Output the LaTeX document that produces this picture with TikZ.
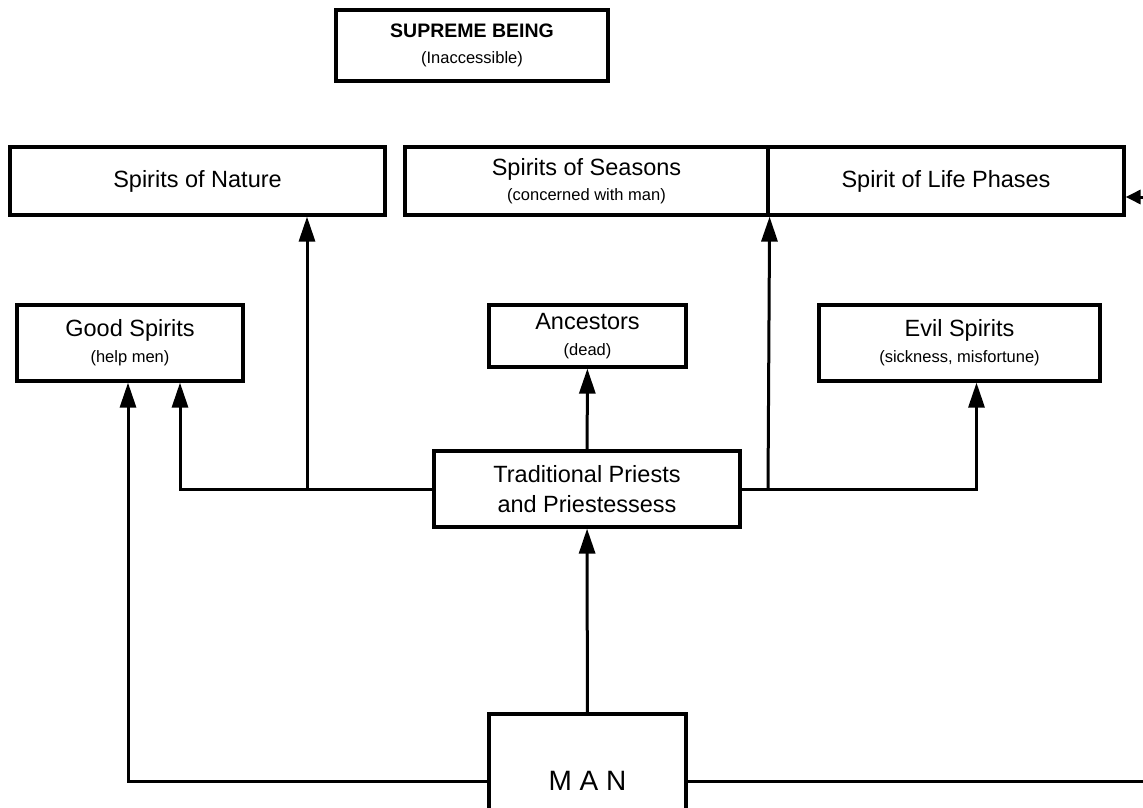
\documentclass[tikz,border=0pt]{standalone}
\usepackage{fontspec}
\setmainfont{Liberation Sans}
\usetikzlibrary{arrows.meta}
\newcommand\bigtxt{\fontsize{23.5}{29}\selectfont}
\newcommand\smalltxt{\fontsize{16.5}{20}\selectfont}
\begin{document}
\begin{tikzpicture}[x=1pt,y=-1pt,
  box/.style={draw, line width=3.2pt, inner sep=0pt, align=center, font=\bigtxt},
  link/.style={line width=3pt},
  arr/.style={link, -{Triangle[length=25pt,width=16pt]}},
  shortarr/.style={link, -{Triangle[length=15pt,width=14pt]}},
]
\useasboundingbox (0,0) rectangle (1143,808);
\clip (0,0) rectangle (1143,808);

% boxes
\node[box, minimum width=272pt, minimum height=71pt] (supreme) at (472,45.5)
  {{\bfseries\fontsize{19.5}{24}\selectfont SUPREME BEING}\\[-3pt]{\smalltxt (Inaccessible)}};
\node[box, minimum width=375pt, minimum height=68pt] (nature) at (197.5,181) {Spirits of Nature};
\node[box, minimum width=363pt, minimum height=68pt] (seasons) at (586.5,181)
  {Spirits of Seasons\\[-4pt]{\smalltxt (concerned with man)}};
\node[box, minimum width=356pt, minimum height=68pt] (life) at (946,181) {Spirit of Life Phases};
\node[box, minimum width=226pt, minimum height=76pt] (good) at (130,343)
  {Good Spirits\\[-3pt]{\smalltxt (help men)}};
\node[box, minimum width=197pt, minimum height=62pt] (anc) at (587.5,336)
  {Ancestors\\[-3pt]{\smalltxt (dead)}};
\node[box, minimum width=281pt, minimum height=76pt] (evil) at (959.5,343)
  {Evil Spirits\\[-3pt]{\smalltxt (sickness, misfortune)}};
\node[box, minimum width=306pt, minimum height=76pt, font=\fontsize{23.5}{30}\selectfont] (priests) at (587,489)
  {Traditional Priests\\and Priestessess};
\node[box, minimum width=197pt, minimum height=134pt,
      font={\fontsize{28}{30}\selectfont\addfontfeature{LetterSpace=28}}] (man) at (587.5,781) {MAN};

% junctions on the priests' horizontal line
\coordinate (jl) at (307,489);
\coordinate (jr) at (768,489);
% the line from MAN runs off the right edge and back up to Life Phases
\coordinate (edgeB) at (1172,781);
\coordinate (edgeT) at (1172,197);

% connectors
\draw[arr] (man) -- (priests);
\draw[arr] (priests) -- (anc);
\draw[arr] (priests.west) -| ([xshift=50pt]good.south);
\draw[arr] (jl) -- (nature.south -| jl);
\draw[arr] (priests.east) -| ([xshift=17pt]evil.south);
\draw[arr] (jr) -- (seasons.south east);
\draw[arr] (man.west) -| ([xshift=-2pt]good.south);
\draw[shortarr] (man.east) -- (edgeB) -- (edgeT) -- (life.east |- edgeT);
\end{tikzpicture}
\end{document}
